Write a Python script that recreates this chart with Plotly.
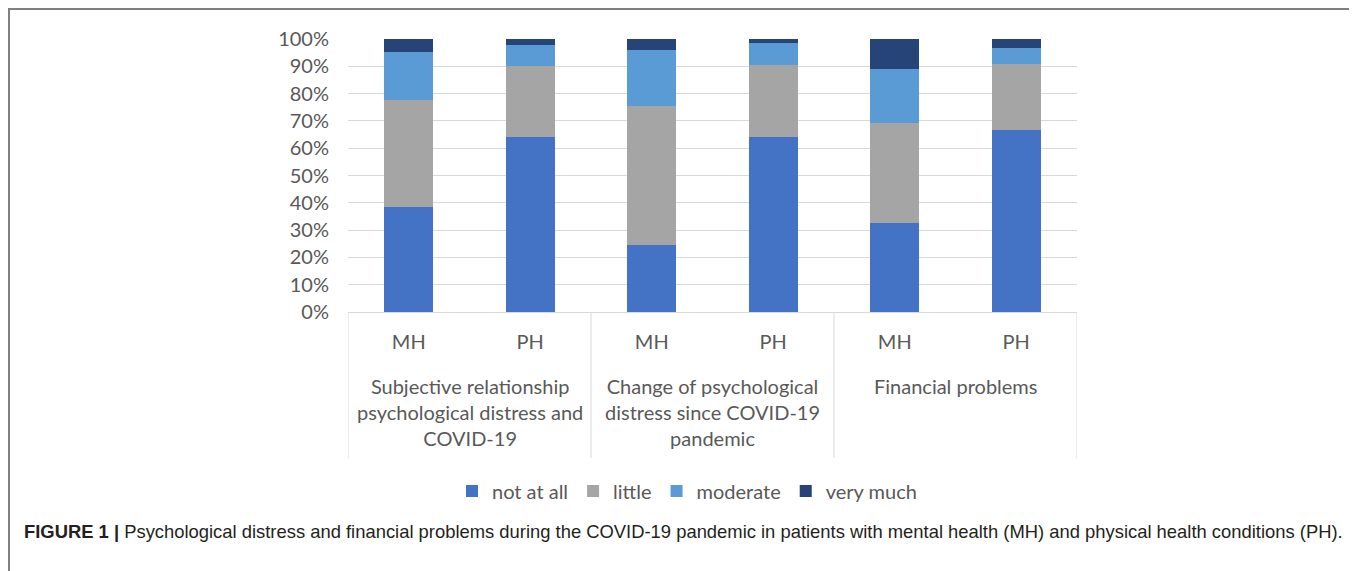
import plotly.graph_objects as go

# ---- data ----
groups = [
    "Subjective relationship<br>psychological distress and<br>COVID-19",
    "Change of psychological<br>distress since COVID-19<br>pandemic",
    "Financial problems",
]
subgroups = ["MH", "PH", "MH", "PH", "MH", "PH"]
series_names = ["not at all", "little", "moderate", "very much"]
not_at_all = [38.4, 64.2, 24.4, 64.2, 32.5, 66.5]
little = [39.3, 25.8, 51.0, 26.1, 36.6, 24.4]
moderate = [17.6, 7.7, 20.4, 8.3, 19.8, 5.9]
very_much = [4.7, 2.3, 4.2, 1.4, 11.1, 3.2]
y_ticks = [0, 10, 20, 30, 40, 50, 60, 70, 80, 90, 100]
caption = ("<b>FIGURE 1 |</b> Psychological distress and financial problems during the "
           "COVID-19 pandemic in patients with mental health (MH) and physical health conditions (PH).")

colors = ["#4472C4", "#A5A5A5", "#5B9BD5", "#264478"]
values = [not_at_all, little, moderate, very_much]

OFF = 8  # page body margin
W, H = 1357 - OFF, 571 - OFF
L, R, T, B = 348, 1077, 39, 312  # plot area in page pixels
pw, ph = R - L, B - T


def px_x(p):
    return (p - L) / pw


def px_y(p):
    return (B - p) / ph


xpos = list(range(len(subgroups)))
FONT = "Lato"
TXT = "#595959"

fig = go.Figure()
for name, vals, col in zip(series_names, values, colors):
    fig.add_trace(go.Bar(
        x=xpos, y=vals, name=name, marker_color=col,
        marker_line_width=0, width=0.4,
    ))

fig.update_layout(
    width=W, height=H,
    barmode="stack",
    paper_bgcolor="white", plot_bgcolor="white",
    margin=dict(l=L - OFF, r=W - (R - OFF), t=T - OFF, b=H - (B - OFF), autoexpand=False),
    font=dict(family=FONT, color=TXT, size=20),
    showlegend=True,
    legend=dict(
        orientation="h", traceorder="normal",
        x=px_x(687), xanchor="center", y=px_y(491), yanchor="middle",
        font=dict(family=FONT, size=20, color=TXT),
        itemwidth=30, bgcolor="rgba(0,0,0,0)",
    ),
)

fig.update_xaxes(
    range=[-0.5, len(subgroups) - 0.5],
    tickmode="array", tickvals=xpos, ticktext=subgroups,
    showgrid=False, zeroline=False,
    showline=True, linecolor="#D9D9D9", linewidth=1,
    ticks="", ticklabelstandoff=12,
    tickfont=dict(family=FONT, size=20, color=TXT),
)
fig.update_yaxes(
    range=[0, 100],
    tickmode="array", tickvals=y_ticks, ticktext=[f"{v}%" for v in y_ticks],
    showgrid=True, gridcolor="#D9D9D9", gridwidth=1,
    zeroline=False, showline=False, ticks="",
    ticklabelstandoff=18,
    tickfont=dict(family=FONT, size=20, color=TXT),
)

# group labels and dividers (positioned in x-axis data units)
for gi, g in enumerate(groups):
    fig.add_annotation(
        x=2 * gi + 0.5, xref="x", y=px_y(372), yref="paper",
        text=g, showarrow=False, yanchor="top", xanchor="center",
        align="center", font=dict(family=FONT, size=20, color=TXT),
    )
for d in range(len(groups) + 1):
    fig.add_shape(
        type="line", xref="x", yref="paper",
        x0=2 * d - 0.5, x1=2 * d - 0.5, y0=0, y1=px_y(458),
        line=dict(color="#D9D9D9", width=1),
    )

# caption
fig.add_annotation(
    x=px_x(22), xref="paper", y=px_y(531), yref="paper",
    text=caption, showarrow=False, xanchor="left", yanchor="middle",
    font=dict(family="Liberation Sans", size=18.4, color="#231F20"),
)

# outer frame
fig.add_shape(
    type="rect", xref="paper", yref="paper",
    x0=px_x(9), x1=px_x(1352), y0=px_y(9), y1=px_y(600),
    line=dict(color="#7F7F7F", width=2), fillcolor="rgba(0,0,0,0)", layer="below",
)

fig.write_html("out.html")
